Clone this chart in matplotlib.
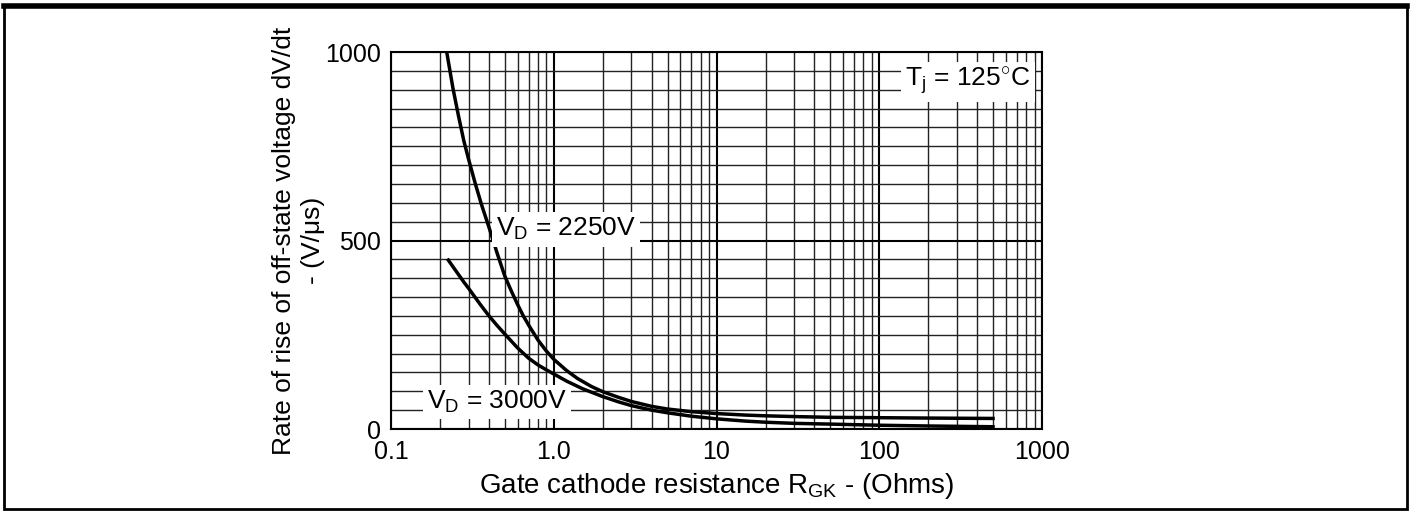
import numpy as np
import matplotlib
matplotlib.use("Agg")
from matplotlib import pyplot as plt
from matplotlib.patches import Rectangle
from matplotlib.lines import Line2D

plt.rcParams['font.family'] = ['Liberation Sans', 'DejaVu Sans']
plt.rcParams['mathtext.fontset'] = 'custom'
plt.rcParams['mathtext.rm'] = 'Liberation Sans'
plt.rcParams['mathtext.it'] = 'Liberation Sans:italic'

# dV/dt vs gate cathode resistance
r_2250 = [0.22, 0.24, 0.26, 0.28, 0.3, 0.33, 0.36, 0.4, 0.45, 0.5, 0.55, 0.6, 0.65, 0.7, 0.8, 0.9,
          1.0, 1.2, 1.4, 1.7, 2, 2.5, 3, 4, 5, 7, 10, 15, 20, 30, 50, 100, 200, 500]
dvdt_2250 = [1000, 905, 830, 765, 715, 650, 595, 535, 465, 406, 365, 330, 300, 276, 236, 207,
             185, 155, 134, 113, 99, 84, 73, 60, 53, 46, 41, 37, 35, 33, 31, 30, 29, 28]

r_3000 = [0.225, 0.25, 0.28, 0.3, 0.35, 0.4, 0.45, 0.5, 0.6, 0.7, 0.8, 0.9, 1.0, 1.2, 1.5,
          2, 2.5, 3, 4, 5, 7, 10, 15, 20, 30, 50, 100, 200, 500]
dvdt_3000 = [448, 420, 390, 373, 333, 300, 274, 252, 215, 188, 170, 157, 146, 127, 107,
             86, 72, 62, 50, 43, 34, 27, 21, 18, 15, 13, 10, 8, 6]

xticks = [0.1, 1, 10, 100, 1000]
xtick_labels = ['0.1', '1.0', '10', '100', '1000']
yticks = [0, 500, 1000]

fig = plt.figure(figsize=(14.11, 5.12), dpi=100)
ax = fig.add_axes([0.2771, 0.1621, 0.4614, 0.7363])

ax.set_xscale('log')
ax.set_xlim(0.1, 1000)
ax.set_ylim(0, 1000)

ax.set_xticks(xticks)
ax.set_xticklabels(xtick_labels)
ax.set_yticks(yticks)
ax.set_yticks(np.arange(0, 1001, 50), minor=True)
ax.xaxis.set_minor_locator(matplotlib.ticker.LogLocator(base=10, subs=np.arange(2, 10)))
ax.xaxis.set_minor_formatter(matplotlib.ticker.NullFormatter())
ax.tick_params(which='both', length=0, labelsize=18)
ax.tick_params(axis='y', pad=7)
ax.tick_params(axis='x', pad=8)

ax.grid(which='major', color='black', lw=1.5)
ax.grid(which='minor', color='#222222', lw=1.0)
ax.set_axisbelow(True)
for s in ax.spines.values():
    s.set_linewidth(1.5)

ax.plot(r_2250, dvdt_2250, color='black', lw=2.5, zorder=3)
ax.plot(r_3000, dvdt_3000, color='black', lw=2.5, zorder=3)

box = dict(facecolor='white', edgecolor='none', pad=3)
ax.text(1.19, 530, r'V$_{\mathrm{D}}$ = 2250V', fontsize=19, ha='center', va='center', bbox=box, zorder=4)
ax.text(0.448, 72, r'V$_{\mathrm{D}}$ = 3000V', fontsize=19, ha='center', va='center', bbox=box, zorder=4)
ax.text(351, 920, r'T$_{\mathrm{j}}$ = 125$^{\circ}$C', fontsize=19, ha='center', va='center', bbox=box, zorder=4)

ax.set_xlabel(r'Gate cathode resistance R$_{\mathrm{GK}}$ - (Ohms)', fontsize=20, labelpad=5)
ax.set_ylabel('Rate of rise of off-state voltage dV/dt\n- (V/\u03bcs)', fontsize=19, labelpad=0, linespacing=1.3)

# frame round the whole picture
fig.patches.append(Rectangle((0.0025, 0.006), 0.995, 0.982, transform=fig.transFigure,
                             fill=False, edgecolor='black', lw=2))
fig.lines.append(Line2D([0.0025, 0.9975], [0.988, 0.988], transform=fig.transFigure,
                        color='black', lw=4))

fig.savefig('out.png', dpi=100, facecolor='white')
